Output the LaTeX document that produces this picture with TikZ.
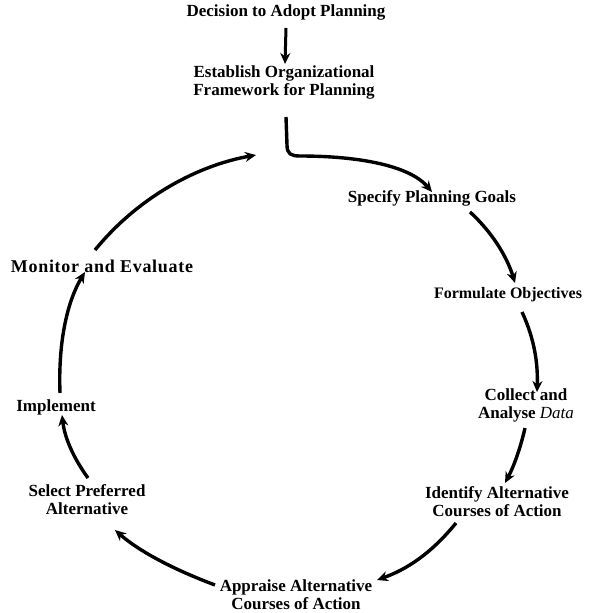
\documentclass[tikz,border=0pt]{standalone}
\usepackage{fontspec}
\setmainfont{Liberation Serif}
\usetikzlibrary{arrows.meta}
\begin{document}
\begin{tikzpicture}[x=1pt,y=-1pt,
  lbl/.style={font=\fontsize{17}{18}\selectfont\bfseries, align=center, inner sep=0pt},
  flow/.style={line width=3.4pt, -{Stealth[length=11pt,width=10pt]}}]
\useasboundingbox (0,0) rectangle (590,613);
\node[lbl] (dec) at (286,12) {Decision to Adopt Planning};
\node[lbl] (est) at (284,82) {Establish Organizational\\Framework for Planning};
\node[lbl] (spec) at (432,198) {Specify Planning Goals};
\node[lbl, font=\fontsize{16}{18}\selectfont\bfseries] (form) at (508,295) {Formulate Objectives};
\node[lbl] (coll) at (526,405) {Collect and\\Analyse \textit{\mdseries Data}};
\node[lbl] (ident) at (497,502) {Identify Alternative\\Courses of Action};
\node[lbl] (appr) at (296,595) {Appraise Alternative\\Courses of Action};
\node[lbl] (sel) at (87,500) {Select Preferred\\Alternative};
\node[lbl] (impl) at (56,407) {Implement};
\node[lbl, font=\fontsize{18}{18}\selectfont\bfseries\addfontfeature{LetterSpace=4}] (mon) at (102,266) {Monitor and Evaluate};
\coordinate (gap) at (256,155);

\draw[flow, line width=3pt] ([shift={(0,16)}]dec.center) -- ([shift={(1,-18)}]est.center);
\draw[flow] ([shift={(2,35)}]est.center) -- (287,145) .. controls (287,154) and (291,156) .. (300,156)
   .. controls (360,156) and (410,166) .. ([shift={(0,-6)}]spec.center);
\draw[flow] ([shift={(38,14)}]spec.center) .. controls (495,235) and (508,260) .. ([shift={(7,-12)}]form.center);
\draw[flow] ([shift={(14,17)}]form.center) .. controls (535,340) and (538,365) .. ([shift={(11,-13)}]coll.center);
\draw[flow] ([shift={(-1,23)}]coll.center) .. controls (520,450) and (513,468) .. ([shift={(8,-19)}]ident.center);
\draw[flow] ([shift={(-41,21)}]ident.center) .. controls (430,555) and (405,570) .. ([shift={(81,-15)}]appr.center);
\draw[flow] ([shift={(-81,-10)}]appr.center) .. controls (175,570) and (140,552) .. ([shift={(28,30)}]sel.center);
\draw[flow] ([shift={(1,-22)}]sel.center) .. controls (75,460) and (65,440) .. ([shift={(6,8)}]impl.center);
\draw[flow] ([shift={(4,-14)}]impl.center) .. controls (58,340) and (68,300) .. ([shift={(-17,6)}]mon.center);
\draw[flow] ([shift={(-7,-16)}]mon.center) .. controls (140,195) and (200,165) .. (gap);
\end{tikzpicture}
\end{document}
